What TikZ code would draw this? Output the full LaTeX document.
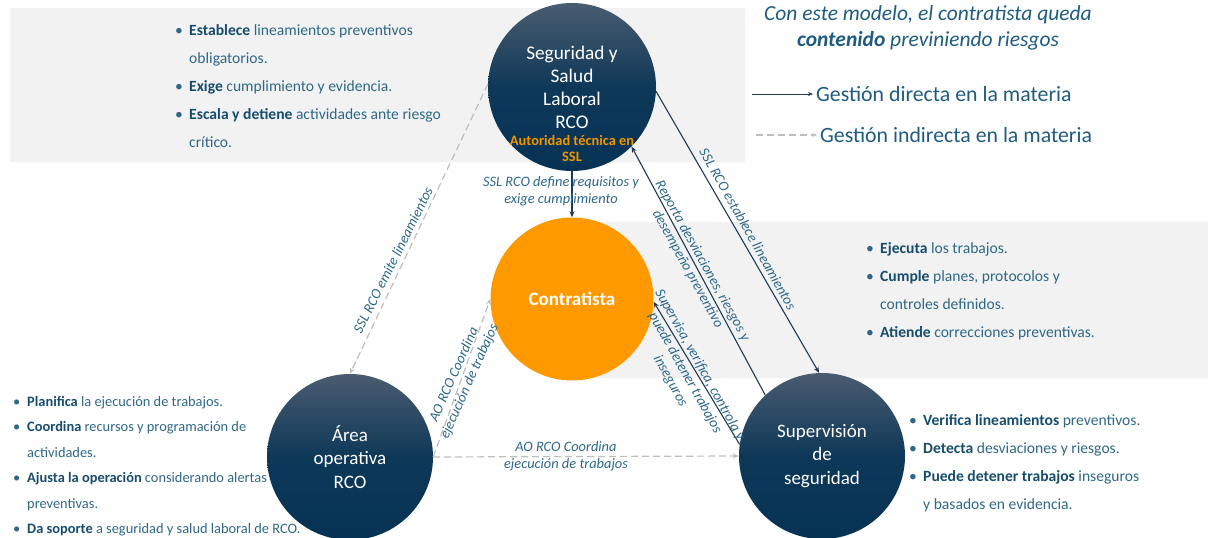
\documentclass[tikz,border=0pt]{standalone}
\usepackage{fontspec}
\setmainfont{Carlito}
\usetikzlibrary{arrows.meta}

\definecolor{navybot}{RGB}{6,50,84}
\definecolor{navymid}{RGB}{14,56,88}
\definecolor{navytop}{RGB}{74,92,112}
\definecolor{navyline}{RGB}{31,58,86}
\definecolor{dashgray}{RGB}{190,190,190}
\definecolor{bandgray}{RGB}{242,242,242}
\definecolor{orng}{RGB}{255,153,0}
\definecolor{orngtxt}{RGB}{240,150,0}
\definecolor{bodytxt}{RGB}{46,104,134}
\definecolor{boldtxt}{RGB}{22,76,108}
\definecolor{lbltxt}{RGB}{44,104,138}
\definecolor{titletxt}{RGB}{31,92,126}

\newcommand{\bul}{\makebox[14pt][l]{\textbullet}}
\newcommand{\ind}{\hspace*{14pt}}
\newcommand{\bt}[1]{\textbf{\color{boldtxt}#1}}

\begin{document}
\begin{tikzpicture}[x=1pt,y=-1pt,
    role/.style = {circle, inner sep=0pt, minimum size=166pt, text=white, align=center,
                   top color=navytop, bottom color=navybot, middle color=navymid,
                   font=\fontsize{19}{23.5}\selectfont},
    direct/.style = {navyline, line width=1.1pt, -{Stealth[length=6pt,width=5pt]}},
    indirect/.style = {dashgray, line width=1.2pt, dash pattern=on 7pt off 4pt,
                       -{Stealth[length=6pt,width=5pt]}},
    lbl/.style = {text=lbltxt, align=center, inner sep=0pt,
                  font=\fontsize{14.4}{16.8}\selectfont\itshape},
    bullets/.style = {text=bodytxt, anchor=north west, align=left, inner sep=0pt,
                      font=\fontsize{15.6}{28}\selectfont},
    legend/.style = {text=titletxt, anchor=west, inner sep=3pt,
                     font=\fontsize{21.8}{24}\selectfont}]
    \useasboundingbox (0,0) rectangle (1208,538);

    % Bands
    \fill[bandgray] (10,8) rectangle (745,162);
    \fill[bandgray] (570,222) rectangle (1208,378);

    % Lists
    \node[bullets] (ssllist) at (175,24) {\bul\bt{Establece} lineamientos preventivos\\
        \ind obligatorios.\\
        \bul\bt{Exige} cumplimiento y evidencia.\\
        \bul\bt{Escala y detiene} actividades ante riesgo\\
        \ind crítico.};
    \node[bullets] (conlist) at (866,242) {\bul\bt{Ejecuta} los trabajos.\\
        \bul\bt{Cumple} planes, protocolos y\\
        \ind controles definidos.\\
        \bul\bt{Atiende} correcciones preventivas.};
    \node[bullets, font=\fontsize{14.4}{25.5}\selectfont] (arelist) at (13,396) {\bul\bt{Planifica} la ejecución de trabajos.\\
        \bul\bt{Coordina} recursos y programación de\\
        \ind actividades.\\
        \bul\bt{Ajusta la operación} considerando alertas\\
        \ind preventivas.\\
        \bul\bt{Da soporte} a seguridad y salud laboral de RCO.};
    \node[bullets] (suplist) at (909,414) {\bul\bt{Verifica lineamientos} preventivos.\\
        \bul\bt{Detecta} desviaciones y riesgos.\\
        \bul\bt{Puede detener trabajos} inseguros\\
        \ind y basados en evidencia.};

    % Circles
    \node[role, minimum size=168pt, font=\fontsize{19.3}{23}\selectfont] (ssl) at (572,87) {Seguridad y\\Salud\\Laboral\\RCO};
    \node[text=orngtxt, align=center, inner sep=0pt, font=\fontsize{14.4}{16}\selectfont\bfseries] (aut) at (572,148) {Autoridad técnica en\\SSL};
    \node[circle, fill=orng, inner sep=0pt, minimum size=163pt, text=white,
          font=\fontsize{19}{22}\selectfont\bfseries] (con) at (572,299) {Contratista};
    \node[role] (are) at (350,457) {Área\\operativa\\RCO};
    \node[role] (sup) at (822,456) {Supervisión\\de\\seguridad};

    % Arrows
    \draw[direct] (ssl.south) -- (con.north);
    \draw[direct] (ssl.-3) -- (sup.92);
    \draw[direct] (sup.133) -- (ssl.-45);
    \draw[direct] (sup.172) -- (con.-2);
    \draw[indirect] (ssl.178) -- (are.north);
    \draw[indirect] (are.east) -- (con.180);
    \draw[indirect] (are.east) -- (sup.west);

    % Arrow labels
    \node[lbl] (l1) at (561,191) {SSL RCO define requisitos y\\exige cumplimiento};
    \node[lbl, rotate=-60.7] (l2) at (748,229) {SSL RCO establece lineamientos};
    \node[lbl, rotate=-61] (l3) at (695,265) {Reporta desviaciones, riesgos y\\desempeño preventivo};
    \node[lbl, rotate=-60.8] (l4) at (685,373) {Supervisa, verifica, controla y\\puede detener trabajos\\inseguros};
    \node[lbl, rotate=63.4] (l5) at (393,260) {SSL RCO emite lineamientos};
    \node[lbl, rotate=66] (l6) at (462,378) {AO RCO Coordina\\ejecución de trabajos};
    \node[lbl] (l7) at (566,456) {AO RCO Coordina\\ejecución de trabajos};

    % Title and legend
    \node[text=titletxt, align=center, inner sep=0pt, font=\fontsize{21.5}{26}\selectfont\itshape] (title) at (928,28)
        {Con este modelo, el contratista queda\\\textbf{contenido} previniendo riesgos};
    \coordinate (d1) at (752,94);
    \node[legend] (ldir) at (813,94) {Gestión directa en la materia};
    \draw[direct, line width=0.9pt, -{Stealth[length=5pt,width=4pt]}] (d1) -- (ldir.west);
    \coordinate (i1) at (756,135);
    \node[legend] (lind) at (817,135) {Gestión indirecta en la materia};
    \draw[indirect, -{Stealth[length=5pt,width=4pt]}] (i1) -- (lind.west);
\end{tikzpicture}
\end{document}
